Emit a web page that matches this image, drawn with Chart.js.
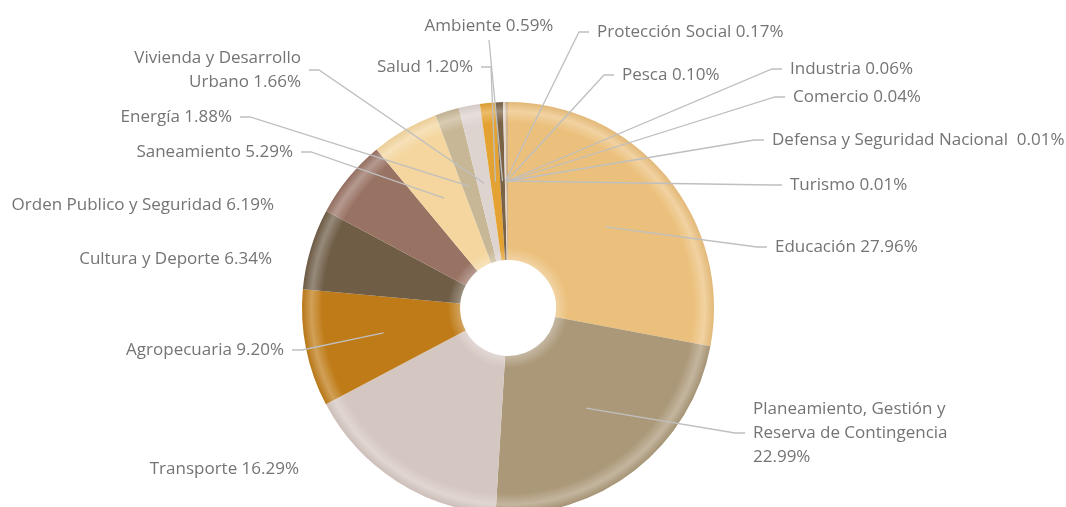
<!DOCTYPE html>
<html>
<head>
<meta charset="utf-8">
<script src="https://cdn.jsdelivr.net/npm/chart.js@4/dist/chart.umd.min.js"></script>
<style>
  html, body { margin: 0; padding: 0; background: #fff; overflow: hidden; }
  #wrap { position: relative; width: 1066px; height: 507px; }
</style>
</head>
<body>
<div id="wrap"><canvas id="pieChart"></canvas></div>
<script>
const sectors = ['Educación', 'Planeamiento, Gestión y Reserva de Contingencia', 'Transporte',
  'Agropecuaria', 'Cultura y Deporte', 'Orden Publico y Seguridad', 'Saneamiento', 'Energía',
  'Vivienda y Desarrollo Urbano', 'Salud', 'Ambiente', 'Protección Social', 'Pesca', 'Industria',
  'Comercio', 'Defensa y Seguridad Nacional ', 'Turismo'];
const shares = [27.96, 22.99, 16.29, 9.20, 6.34, 6.19, 5.29, 1.88, 1.66, 1.20, 0.59, 0.17, 0.10,
  0.06, 0.04, 0.01, 0.01];
const sliceColors = ['#EBC07C', '#AB9878', '#D4C6C0', '#BF7B17', '#6F5D46', '#987263', '#F4D69E',
  '#C7B796', '#DDD3CF', '#E3A232', '#7A6245', '#E6D8D2', '#C9B08A', '#C88A3A', '#8E7A60',
  '#B08070', '#F0D8A8'];

const RADIUS = 206;
const CUT = 0.233;

// label boxes, relative to the doughnut centre
// side: 'r' = text starts at x, 'l' = text ends at x, 't' = centred, line from below
const callouts = [
  { dx: 267, dy: -61, side: 'r', line: true },
  { dx: 245, dy: 125, side: 'r', line: true, wrap: 220 },
  { dx: -209, dy: 161, side: 'l', line: false },
  { dx: -224, dy: 42, side: 'l', line: true },
  { dx: -236, dy: -49, side: 'l', line: false },
  { dx: -234, dy: -103, side: 'l', line: false },
  { dx: -215, dy: -156, side: 'l', line: true },
  { dx: -276, dy: -191, side: 'l', line: true },
  { dx: -207, dy: -238, side: 'l', line: true, wrap: 200 },
  { dx: -35, dy: -241, side: 'l', line: true },
  { dx: -19, dy: -282, side: 't', line: true },
  { dx: 89, dy: -276, side: 'r', line: true },
  { dx: 114, dy: -233, side: 'r', line: true },
  { dx: 282, dy: -239, side: 'r', line: true },
  { dx: 285, dy: -211, side: 'r', line: true },
  { dx: 264, dy: -168, side: 'r', line: true },
  { dx: 282, dy: -123, side: 'r', line: true }
];

function tint(hex, amt) {
  const n = parseInt(hex.slice(1), 16);
  const t = amt < 0 ? 0 : 255, p = Math.abs(amt);
  const c = [n >> 16, (n >> 8) & 255, n & 255].map(v => Math.round(v + (t - v) * p));
  return 'rgb(' + c.join(',') + ')';
}

function bevelFill(ctx) {
  const base = sliceColors[ctx.dataIndex];
  const a = ctx.chart.chartArea;
  if (!a) return base;
  const cx = (a.left + a.right) / 2, cy = (a.top + a.bottom) / 2;
  const g = ctx.chart.ctx.createRadialGradient(cx, cy, 0, cx, cy, RADIUS);
  g.addColorStop(CUT, tint(base, 0.3));
  g.addColorStop(CUT + 0.06, base);
  g.addColorStop(0.9, base);
  g.addColorStop(0.955, tint(base, 0.28));
  g.addColorStop(1, tint(base, -0.04));
  return g;
}

function wrapText(c, text, max) {
  if (!max) return [text];
  const words = text.split(' ');
  const lines = [];
  let cur = '';
  words.forEach(w => {
    const test = cur ? cur + ' ' + w : w;
    if (cur && c.measureText(test).width > max) { lines.push(cur); cur = w; }
    else cur = test;
  });
  lines.push(cur);
  return lines;
}

const calloutPlugin = {
  id: 'callouts',
  afterDatasetsDraw(chart) {
    const c = chart.ctx;
    const arcs = chart.getDatasetMeta(0).data;
    const lh = 24;
    c.save();
    c.font = '17px "Open Sans"';
    c.textBaseline = 'middle';
    arcs.forEach((arc, i) => {
      const o = callouts[i];
      const x = arc.x + o.dx, y = arc.y + o.dy;
      const text = sectors[i] + ' ' + shares[i].toFixed(2) + '%';
      const lines = wrapText(c, text, o.wrap);
      const end = arc.tooltipPosition();
      if (o.line) {
        c.strokeStyle = '#BFBFBF';
        c.lineWidth = 1.3;
        c.beginPath();
        if (o.side === 't') {
          c.moveTo(x, y + 14);
          c.lineTo(end.x, end.y);
        } else {
          const dir = o.side === 'r' ? -1 : 1;
          const sx = x + dir * 8;
          c.moveTo(sx, y);
          c.lineTo(sx + dir * 10, y);
          c.lineTo(end.x, end.y);
        }
        c.stroke();
      }
      c.fillStyle = '#747474';
      c.textAlign = o.side === 'r' ? 'left' : (o.side === 'l' ? 'right' : 'center');
      const top = y - (lines.length - 1) * lh / 2;
      lines.forEach((ln, k) => c.fillText(ln, x, top + k * lh));
    });
    c.restore();
  }
};

new Chart(document.getElementById('pieChart'), {
  type: 'doughnut',
  data: {
    labels: sectors,
    datasets: [{
      data: shares,
      backgroundColor: bevelFill,
      borderWidth: 0,
      hoverOffset: 0,
      clip: false
    }]
  },
  options: {
    responsive: true,
    maintainAspectRatio: false,
    animation: false,
    events: [],
    radius: RADIUS,
    cutout: (CUT * 100) + '%',
    layout: { padding: { top: 109, bottom: 0, left: 0, right: 50 } },
    plugins: {
      legend: { display: false },
      tooltip: { enabled: false }
    }
  },
  plugins: [calloutPlugin]
});
</script>
</body>
</html>
